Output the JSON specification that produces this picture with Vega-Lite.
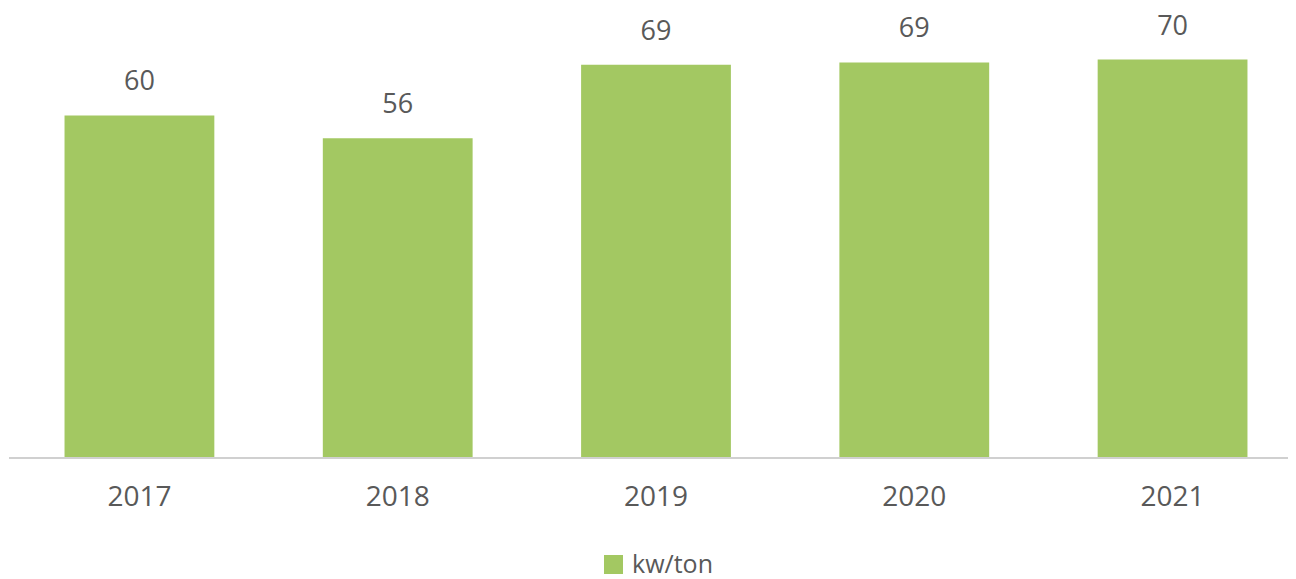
{
  "$schema": "https://vega.github.io/schema/vega-lite/v6.json",
  "autosize": {"type": "none"},
  "width": 1279,
  "height": 456,
  "padding": {"left": 9, "top": 2, "right": 8, "bottom": 121},
  "background": "white",
  "config": {"view": {"stroke": null}, "font": "Open Sans"},
  "data": {"values": [
    {"year": "2017", "value": 60.1, "label": "60", "series": "kw/ton"},
    {"year": "2018", "value": 56.1, "label": "56", "series": "kw/ton"},
    {"year": "2019", "value": 69.0, "label": "69", "series": "kw/ton"},
    {"year": "2020", "value": 69.4, "label": "69", "series": "kw/ton"},
    {"year": "2021", "value": 69.9, "label": "70", "series": "kw/ton"}
  ]},
  "layer": [
    {
      "mark": {"type": "bar", "color": "#A3C862"},
      "encoding": {
        "x": {"field": "year", "type": "ordinal", "scale": {"paddingInner": 0.42, "paddingOuter": 0.215, "range": [0, 1294]},
          "axis": {"title": null, "domain": false, "ticks": false, "labelAngle": 0, "labelFontSize": 28, "labelColor": "#595959", "labelPadding": 39, "labelBaseline": "middle"}},
        "y": {"field": "value", "type": "quantitative", "scale": {"domain": [0, 80]}, "axis": null},
        "color": {"field": "series", "type": "nominal", "scale": {"range": ["#A3C862"]},
          "legend": {"title": null, "orient": "none", "legendX": 592, "legendY": 550, "symbolType": "square", "symbolSize": 361, "symbolStrokeWidth": 0, "labelFontSize": 25, "labelColor": "#595959", "labelOffset": 6}}
      }
    },
    {
      "mark": {"type": "text", "baseline": "bottom", "dy": -19, "fontSize": 27, "color": "#595959"},
      "encoding": {
        "x": {"field": "year", "type": "ordinal"},
        "y": {"field": "value", "type": "quantitative"},
        "text": {"field": "label"}
      }
    },
    {
      "mark": {"type": "rule", "color": "#D0D0D0", "strokeWidth": 2},
      "encoding": {"y": {"datum": 0}}
    }
  ]
}
